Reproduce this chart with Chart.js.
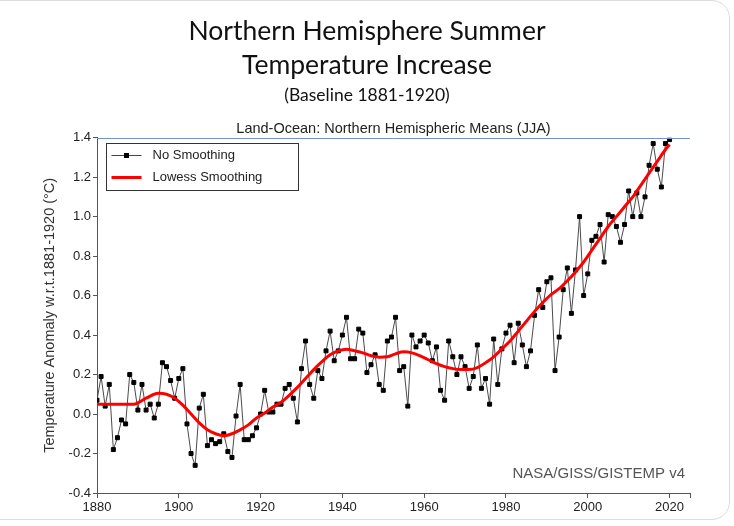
<!DOCTYPE html>
<html>
<head>
<meta charset="utf-8">
<title>Northern Hemisphere Summer Temperature Increase</title>
<script src="https://cdn.jsdelivr.net/npm/chart.js@4.4.0/dist/chart.umd.min.js"></script>
<style>
  html, body { margin: 0; padding: 0; background: #fff; }
  #wrap { position: relative; width: 734px; height: 526px; overflow: hidden; }
  #card { position: absolute; left: -30px; top: 0; width: 758px; height: 518px;
          border: 1px solid #dcdcdc; border-radius: 18px; }
  #chart { position: absolute; left: 0; top: 0; }
</style>
</head>
<body>
<div id="wrap">
  <div id="card"></div>
  <canvas id="chart" width="734" height="526"></canvas>
</div>
<script>
// Annual JJA anomalies, 1880..2020, one row per decade
const firstYear = 1880;
const anomalies = [
   0.07,  0.19,  0.04,  0.15, -0.18, -0.12, -0.03, -0.05,  0.20,  0.16, // 1880s
   0.02,  0.15,  0.02,  0.05, -0.02,  0.05,  0.26,  0.24,  0.17,  0.08, // 1890s
   0.18,  0.23, -0.05, -0.20, -0.26,  0.03,  0.10, -0.16, -0.13, -0.15, // 1900s
  -0.14, -0.10, -0.19, -0.22, -0.01,  0.15, -0.13, -0.13, -0.11, -0.07, // 1910s
   0.00,  0.12,  0.01,  0.01,  0.05,  0.05,  0.13,  0.15,  0.08, -0.04, // 1920s
   0.23,  0.37,  0.15,  0.08,  0.22,  0.18,  0.32,  0.42,  0.27,  0.32, // 1930s
   0.40,  0.49,  0.28,  0.28,  0.43,  0.41,  0.21,  0.25,  0.30,  0.15, // 1940s
   0.12,  0.37,  0.39,  0.49,  0.22,  0.24,  0.04,  0.40,  0.34,  0.37, // 1950s
   0.40,  0.36,  0.27,  0.34,  0.12,  0.07,  0.37,  0.29,  0.20,  0.29, // 1960s
   0.24,  0.13,  0.19,  0.35,  0.13,  0.18,  0.05,  0.38,  0.15,  0.33, // 1970s
   0.41,  0.45,  0.26,  0.46,  0.35,  0.24,  0.32,  0.50,  0.63,  0.54, // 1980s
   0.67,  0.69,  0.22,  0.39,  0.63,  0.74,  0.51,  0.73,  1.00,  0.60, // 1990s
   0.71,  0.88,  0.90,  0.96,  0.77,  1.01,  1.00,  0.95,  0.87,  0.96, // 2000s
   1.13,  1.00,  1.12,  1.00,  1.10,  1.26,  1.37,  1.24,  1.15,  1.37, // 2010s
   1.39                                                                 // 2020
];

// Lowess curve
const lowessYears = [1880, 1885, 1889, 1892, 1895, 1897, 1899, 1901, 1903, 1905, 1907, 1909,
  1911, 1913, 1915, 1917, 1919, 1921, 1923, 1925, 1927, 1929, 1931, 1933, 1935, 1937, 1939,
  1941, 1943, 1945, 1947, 1949, 1951, 1953, 1955, 1957, 1959, 1961, 1963, 1965, 1967, 1969,
  1971, 1973, 1975, 1977, 1979, 1981, 1983, 1985, 1987, 1989, 1991, 1993, 1995, 1997, 1999,
  2001, 2003, 2005, 2007, 2009, 2011, 2013, 2015, 2017, 2019, 2020];
const lowessValues = [0.05, 0.05, 0.05, 0.08, 0.105, 0.10, 0.08, 0.045, 0.0, -0.045, -0.08, -0.10,
  -0.11, -0.10, -0.08, -0.055, -0.02, 0.005, 0.035, 0.06, 0.095, 0.135, 0.18, 0.225, 0.265, 0.30, 0.32,
  0.328, 0.32, 0.31, 0.295, 0.288, 0.29, 0.305, 0.315, 0.31, 0.295, 0.275, 0.255, 0.24, 0.23, 0.225,
  0.225, 0.235, 0.26, 0.29, 0.33, 0.37, 0.42, 0.47, 0.52, 0.565, 0.605, 0.635, 0.675, 0.72, 0.77,
  0.83, 0.89, 0.95, 1.0, 1.05, 1.10, 1.16, 1.22, 1.28, 1.34, 1.365];

const yTicks = [-0.4, -0.2, 0.0, 0.2, 0.4, 0.6, 0.8, 1.0, 1.2, 1.4];
const xTicks = [1880, 1900, 1920, 1940, 1960, 1980, 2000, 2020];

const rawPoints = anomalies.map((v, i) => ({ x: firstYear + i, y: v }));
const lowessPoints = lowessYears.map((yr, i) => ({ x: yr, y: lowessValues[i] }));

Chart.defaults.font.family = "'Liberation Sans', Arial, sans-serif";
Chart.defaults.color = '#222';

// legend box, caption, source note and the blue top rule
const extras = {
  id: 'extras',
  afterDatasetsDraw(chart) {
    const { ctx, chartArea: a } = chart;
    ctx.save();

    ctx.strokeStyle = '#7392cf';
    ctx.lineWidth = 1;
    ctx.beginPath();
    ctx.moveTo(a.left, Math.round(a.top) + 0.5);
    ctx.lineTo(a.right, Math.round(a.top) + 0.5);
    ctx.stroke();

    ctx.fillStyle = '#222';
    ctx.font = "14.5px 'Liberation Sans', Arial, sans-serif";
    ctx.textAlign = 'center';
    ctx.textBaseline = 'middle';
    ctx.fillText('Land-Ocean: Northern Hemispheric Means (JJA)', (a.left + a.right) / 2, a.top - 9);

    ctx.fillStyle = '#555';
    ctx.font = "15px 'Liberation Sans', Arial, sans-serif";
    ctx.textAlign = 'right';
    ctx.fillText('NASA/GISS/GISTEMP v4', a.right - 5, a.bottom - 19);

    // legend
    const lx = Math.round(a.left) + 9.5, ly = Math.round(a.top) + 5.5;
    ctx.fillStyle = '#fff';
    ctx.fillRect(lx, ly, 192, 47);
    ctx.strokeStyle = '#333';
    ctx.lineWidth = 1;
    ctx.strokeRect(lx, ly, 192, 47);

    const ds = chart.data.datasets;
    ctx.strokeStyle = '#444';
    ctx.beginPath();
    ctx.moveTo(lx + 5, ly + 12);
    ctx.lineTo(lx + 35, ly + 12);
    ctx.stroke();
    ctx.fillStyle = '#000';
    ctx.fillRect(lx + 17.5, ly + 9.5, 5, 5);

    ctx.strokeStyle = '#ff0000';
    ctx.lineWidth = 3;
    ctx.beginPath();
    ctx.moveTo(lx + 5, ly + 34);
    ctx.lineTo(lx + 35, ly + 34);
    ctx.stroke();

    ctx.fillStyle = '#222';
    ctx.font = "13px 'Liberation Sans', Arial, sans-serif";
    ctx.textAlign = 'left';
    ctx.fillText(ds[0].label, lx + 46, ly + 12);
    ctx.fillText(ds[1].label, lx + 46, ly + 34);

    ctx.restore();
  }
};

new Chart(document.getElementById('chart').getContext('2d'), {
  type: 'line',
  data: {
    datasets: [{
      label: 'No Smoothing',
      data: rawPoints,
      borderColor: '#4a4a4a',
      borderWidth: 1,
      pointStyle: 'rect',
      pointRadius: 2.8,
      pointBackgroundColor: '#000',
      pointBorderColor: '#000',
      pointBorderWidth: 1,
      tension: 0,
      order: 2
    }, {
      label: 'Lowess Smoothing',
      data: lowessPoints,
      borderColor: '#ff0000',
      borderWidth: 3,
      pointRadius: 0,
      cubicInterpolationMode: 'monotone',
      order: 1
    }]
  },
  options: {
    responsive: false,
    animation: false,
    layout: { padding: { left: 0, right: 0, top: 0, bottom: 0 } },
    plugins: {
      legend: { display: false },
      tooltip: { enabled: false },
      title: {
        display: true,
        text: ['Northern Hemisphere Summer', 'Temperature Increase'],
        font: { family: "Lato, 'Open Sans', sans-serif", size: 26.5, weight: 'normal', lineHeight: 1.3 },
        color: '#111',
        padding: { top: 14, bottom: 0 }
      },
      subtitle: {
        display: true,
        text: '(Baseline 1881-1920)',
        font: { family: "Lato, 'Open Sans', sans-serif", size: 17.5, weight: 'normal', lineHeight: 1.3 },
        color: '#111',
        padding: { top: 1, bottom: 31 }
      }
    },
    scales: {
      x: {
        type: 'linear',
        min: 1880,
        max: 2025,
        afterBuildTicks: s => { s.ticks = xTicks.concat([2025]).map(v => ({ value: v })); },
        ticks: {
          callback: v => xTicks.includes(v) ? String(v) : '',
          font: { size: 13 },
          color: '#222',
          maxRotation: 0,
          autoSkip: false,
          padding: 2
        },
        grid: { drawOnChartArea: false, tickLength: 5, color: '#555' },
        border: { color: '#555' },
        afterFit: s => { s.height = 33; }
      },
      y: {
        min: -0.4,
        max: 1.4,
        afterBuildTicks: s => { s.ticks = yTicks.map(v => ({ value: v })); },
        ticks: {
          callback: v => (Math.abs(v) < 1e-9 ? 0 : v).toFixed(1),
          font: { size: 13 },
          color: '#222',
          padding: 2
        },
        grid: { drawOnChartArea: false, tickLength: 4, color: '#555' },
        border: { color: '#555' },
        title: {
          display: true,
          text: 'Temperature Anomaly w.r.t.1881-1920 (°C)',
          font: { size: 14.5 },
          color: '#333',
          padding: { top: 41, bottom: 0 }
        },
        afterFit: s => { s.width = 97; }
      },
      // empty right-hand strip so the titles stay centred on the whole canvas
      yRight: {
        position: 'right',
        grid: { display: false },
        border: { display: false },
        ticks: { display: false },
        afterFit: s => { s.width = 44; }
      }
    }
  },
  plugins: [extras]
});
</script>
</body>
</html>
